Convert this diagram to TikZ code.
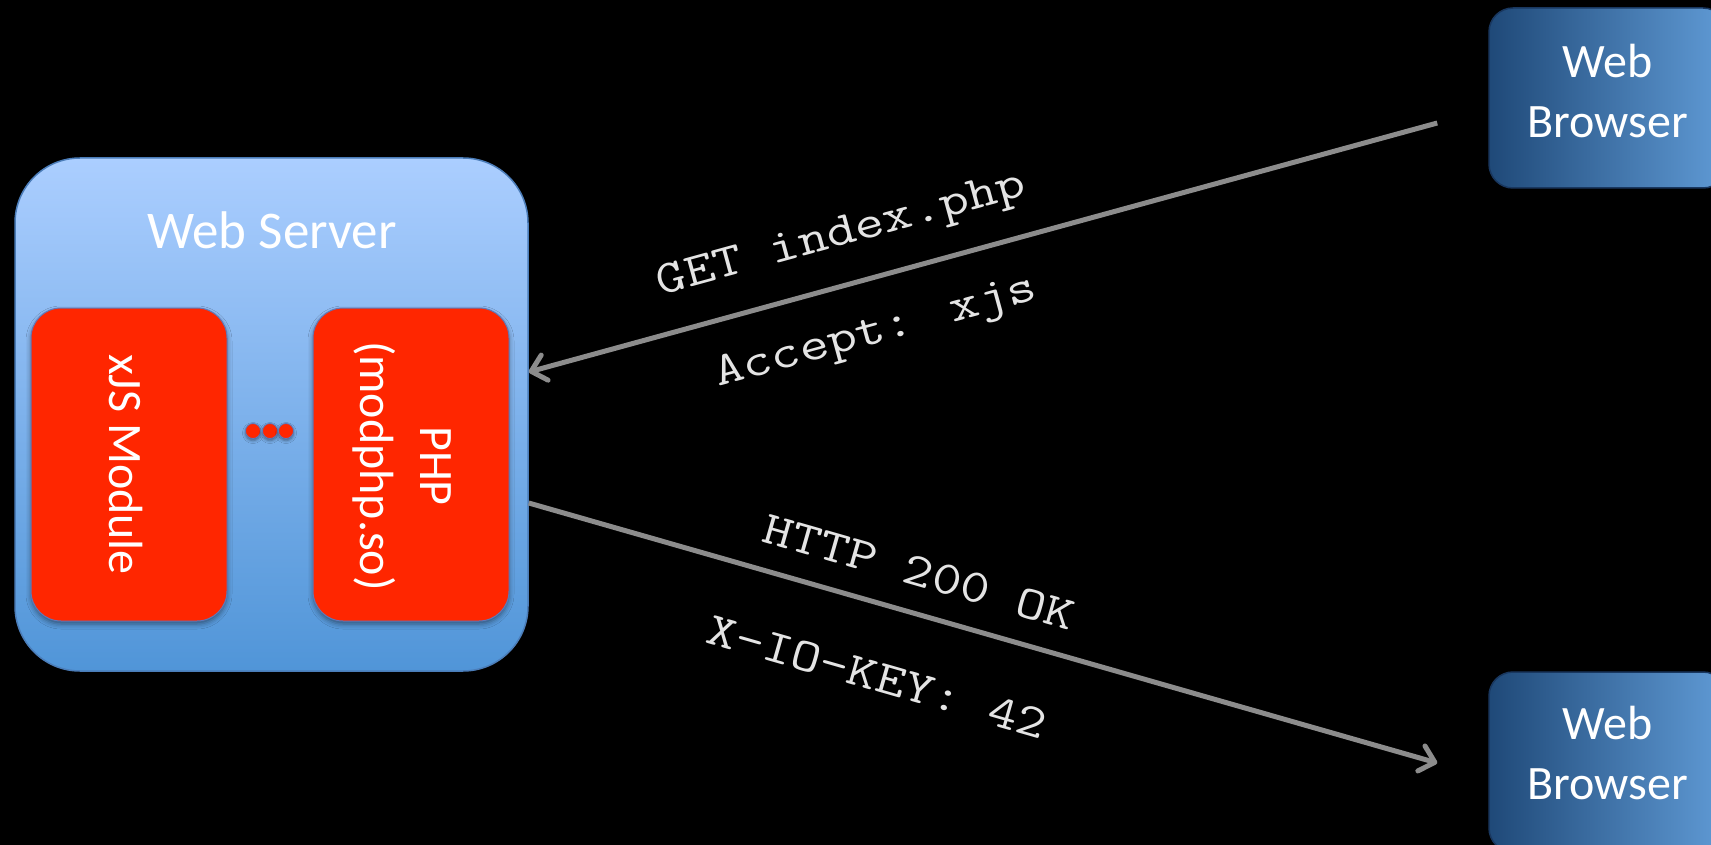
\documentclass[tikz,border=0pt]{standalone}
\usepackage{fontspec}
\setmainfont{Carlito}
\usetikzlibrary{calc,arrows.meta,shadows.blur}
\definecolor{srvtop}{RGB}{171,206,255}
\definecolor{srvbot}{RGB}{80,149,216}
\definecolor{srvline}{RGB}{75,125,185}
\definecolor{modred}{RGB}{255,38,0}
\definecolor{modline}{RGB}{95,120,185}
\definecolor{brleft}{RGB}{31,73,120}
\definecolor{brright}{RGB}{96,155,214}
\definecolor{brline}{RGB}{25,55,95}
\definecolor{arrowgray}{RGB}{140,140,140}
\definecolor{labelgray}{RGB}{228,228,228}
\begin{document}
\begin{tikzpicture}[x=1pt,y=-1pt,
  serverbox/.style={draw=srvline, line width=1.5pt, rounded corners=65pt,
    top color=srvtop, bottom color=srvbot,
    minimum width=513pt, minimum height=513pt, inner sep=0pt},
  modulebox/.style={draw=modline, line width=1pt, fill=modred, rounded corners=30pt,
    minimum width=196pt, minimum height=313pt, inner sep=0pt,
    blur shadow={shadow xshift=0pt, shadow yshift=-3pt, shadow blur radius=5pt, shadow opacity=45}},
  ellipsisdot/.style={circle, draw=modline, line width=0.8pt, fill=modred,
    minimum size=15pt, inner sep=0pt,
    blur shadow={shadow xshift=0pt, shadow yshift=-2pt, shadow blur radius=3pt, shadow opacity=45}},
  browserbox/.style={draw=brline, line width=1.5pt, rounded corners=24pt,
    left color=brleft, right color=brright,
    minimum width=238pt, minimum height=180pt, inner sep=0pt},
  boxtext/.style={text=white, inner sep=0pt, font=\fontsize{48}{60}\selectfont, align=center},
  msgtext/.style={text=labelgray, inner sep=0pt, font=\ttfamily\fontsize{47}{60}\selectfont},
  msgarrow/.style={draw=arrowgray, line width=5pt, -{Straight Barb[length=14pt,width=26pt,round]}}
]
\useasboundingbox (0,0) rectangle (1711,845);
\clip (0,0) rectangle (1711,845);
\fill[black] (0,0) rectangle (1711,845);

% web server
\node[serverbox] (server) at (271.5,414.5) {};
\node[boxtext, anchor=base, font=\fontsize{53}{64}\selectfont] (srvlabel) at (272,248.5) {Web Server};

% modules
\node[modulebox] (xjs) at (129,464.5) {};
\node[modulebox] (php) at (411,464.5) {};
\node[boxtext, rotate=-90, anchor=base] (xjslabel) at (109,464.5) {xJS Module};
\node[boxtext, rotate=-90] (phplabel) at (402.5,466) {PHP\\(modphp.so)};

% ellipsis
\node[ellipsisdot] (d1) at (253,431) {};
\node[ellipsisdot] (d2) at (270,431) {};
\node[ellipsisdot] (d3) at (286,431) {};

% browsers
\node[browserbox] (b1) at (1608,98) {};
\node[boxtext] (b1label) at (1608,91) {Web\\Browser};
\node[browserbox] (b2) at (1608,762) {};
\node[boxtext] (b2label) at (1608,753) {Web\\Browser};

% connectors
\coordinate (req) at ($(b1.west)+(-51,25)$);
\coordinate (resp) at ($(b2.west)+(-51,1)$);
\draw[msgarrow] (req) -- ($(server.east)+(0,-42.5)$);
\draw[msgarrow] ($(server.east)+(0,88.5)$) -- (resp);

% labels
\node[msgtext, rotate=15.3, xscale=1.21] (l1) at (842,236) {GET index.php};
\node[msgtext, rotate=15.3, xscale=1.21] (l2) at (876,334) {Accept: xjs};
\node[msgtext, rotate=-16, xscale=1.21] (l3) at (919,572) {HTTP 200 OK};
\node[msgtext, rotate=-16, xscale=1.21] (l4) at (877,677) {X-IO-KEY: 42};
\end{tikzpicture}
\end{document}
